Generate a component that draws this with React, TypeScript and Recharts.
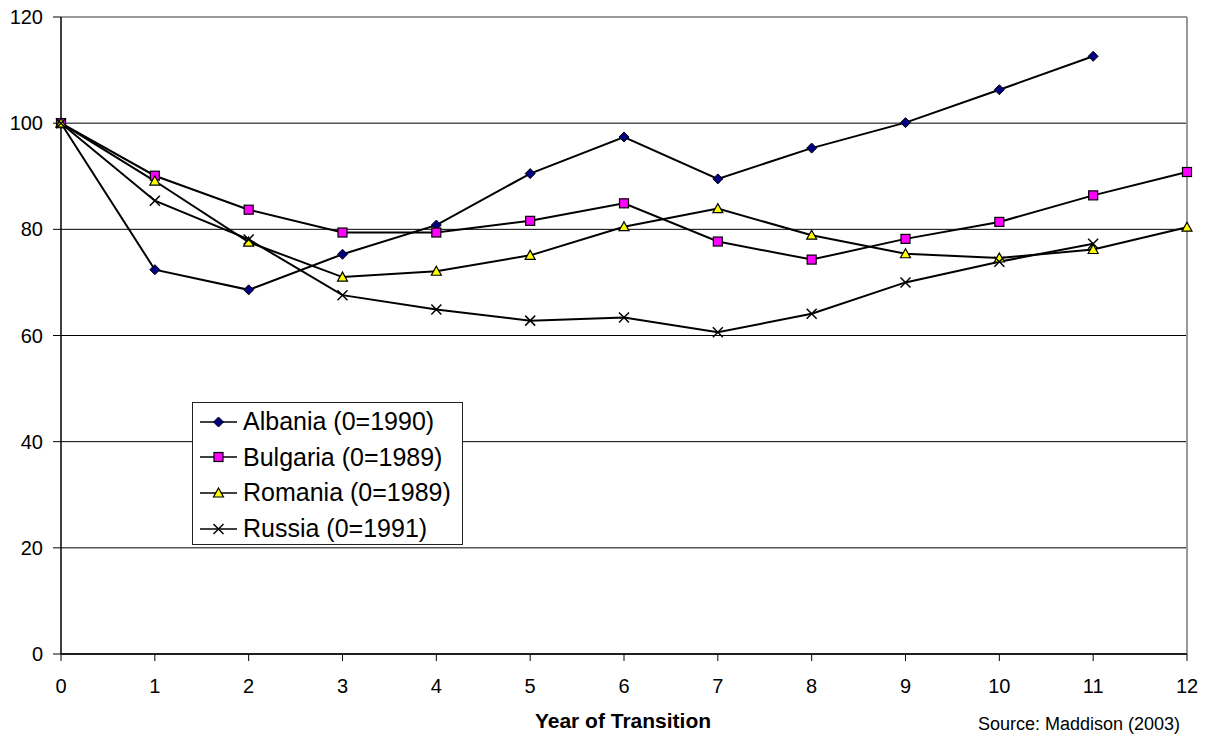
import React from 'react';
import { LineChart, Line, XAxis, YAxis, CartesianGrid, ReferenceLine, Legend } from 'recharts';

const years = [0, 1, 2, 3, 4, 5, 6, 7, 8, 9, 10, 11, 12];
const albania = [100, 72.4, 68.6, 75.3, 80.8, 90.5, 97.4, 89.5, 95.3, 100.1, 106.3, 112.6, null];
const bulgaria = [100, 90.1, 83.7, 79.4, 79.4, 81.6, 84.9, 77.7, 74.3, 78.2, 81.4, 86.4, 90.8];
const romania = [100, 89.1, 77.6, 71.0, 72.1, 75.1, 80.5, 83.9, 78.9, 75.4, 74.6, 76.2, 80.4];
const russia = [100, 85.4, 78.1, 67.6, 64.9, 62.8, 63.4, 60.6, 64.1, 70.0, 73.9, 77.3, null];
const seriesNames = ['Albania (0=1990)', 'Bulgaria (0=1989)', 'Romania (0=1989)', 'Russia (0=1991)'];
const xTicks = [0, 1, 2, 3, 4, 5, 6, 7, 8, 9, 10, 11, 12];
const yTicks = [0, 20, 40, 60, 80, 100, 120];

const data = years.map((y, i) => ({
  year: y,
  albania: albania[i],
  bulgaria: bulgaria[i],
  romania: romania[i],
  russia: russia[i],
}));

const FONT = '"Liberation Sans", Arial, sans-serif';

type Shape = 'diamond' | 'square' | 'triangle' | 'x';

function Marker({ cx, cy, shape }: { cx: number; cy: number; shape: Shape }) {
  if (cx == null || cy == null || isNaN(cx) || isNaN(cy)) return null;
  if (shape === 'diamond') {
    const r = 5;
    return <path d={`M${cx},${cy - r}L${cx + r},${cy}L${cx},${cy + r}L${cx - r},${cy}Z`} fill="#000080" stroke="#000" strokeWidth={1} />;
  }
  if (shape === 'square') {
    const r = 4.5;
    return <rect x={cx - r} y={cy - r} width={2 * r} height={2 * r} fill="#FF00FF" stroke="#000" strokeWidth={1.2} />;
  }
  if (shape === 'triangle') {
    const r = 5;
    return <path d={`M${cx},${cy - r}L${cx + r},${cy + r * 0.8}L${cx - r},${cy + r * 0.8}Z`} fill="#FFFF00" stroke="#000" strokeWidth={1.2} />;
  }
  const r = 5;
  return (
    <g stroke="#000" strokeWidth={1.5}>
      <line x1={cx - r} y1={cy - r} x2={cx + r} y2={cy + r} />
      <line x1={cx - r} y1={cy + r} x2={cx + r} y2={cy - r} />
    </g>
  );
}

const makeDot = (shape: Shape) => (props: any) => (
  <Marker key={`${shape}-${props.index}`} cx={props.cx} cy={props.cy} shape={shape} />
);

const shapes: Shape[] = ['diamond', 'square', 'triangle', 'x'];

function LegendBox() {
  return (
    <div
      style={{
        width: 271,
        height: 143,
        boxSizing: 'border-box',
        border: '1px solid #222',
        background: '#fff',
        paddingTop: 1,
        paddingLeft: 7,
        fontFamily: FONT,
        fontSize: 25,
        color: '#000',
      }}
    >
      {seriesNames.map((n, i) => (
        <div key={n} style={{ height: 35.6, display: 'flex', alignItems: 'center', whiteSpace: 'nowrap' }}>
          <svg width={37} height={20} style={{ marginRight: 6, flex: 'none' }}>
            <line x1={0} y1={10} x2={37} y2={10} stroke="#000" strokeWidth={1.5} />
            <Marker cx={18.5} cy={10} shape={shapes[i]} />
          </svg>
          <span>{n}</span>
        </div>
      ))}
    </div>
  );
}

export default function App() {
  return (
    <div style={{ position: 'absolute', left: 0, top: 0, width: 1207, height: 734, background: '#fff' }}>
      <LineChart width={1207} height={734} data={data} margin={{ top: 17, right: 20, left: 0, bottom: 40 }}>
        <CartesianGrid vertical={false} stroke="#000" strokeWidth={1} />
        <XAxis
          dataKey="year"
          type="number"
          domain={[0, 12]}
          ticks={xTicks}
          height={40}
          tickSize={7}
          tickMargin={18}
          axisLine={{ stroke: '#000', strokeWidth: 1.5 }}
          tickLine={{ stroke: '#000' }}
          tick={{ fill: '#000', fontSize: 20, fontFamily: FONT }}
          interval={0}
        />
        <YAxis
          type="number"
          domain={[0, 120]}
          ticks={yTicks}
          width={61}
          tickSize={8}
          tickMargin={10}
          axisLine={{ stroke: '#000', strokeWidth: 1.5 }}
          tickLine={{ stroke: '#000' }}
          tick={{ fill: '#000', fontSize: 20, fontFamily: FONT }}
          interval={0}
        />
        <ReferenceLine y={120} stroke="#999" strokeWidth={2} />
        <ReferenceLine x={12} stroke="#999" strokeWidth={2} />
        <Legend
          layout="vertical"
          align="center"
          verticalAlign="middle"
          wrapperStyle={{ left: 192, top: 402, width: 271, height: 143 }}
          content={() => <LegendBox />}
        />
        <Line dataKey="albania" name={seriesNames[0]} stroke="#000" strokeWidth={2} dot={makeDot('diamond')} isAnimationActive={false} />
        <Line dataKey="bulgaria" name={seriesNames[1]} stroke="#000" strokeWidth={2} dot={makeDot('square')} isAnimationActive={false} />
        <Line dataKey="romania" name={seriesNames[2]} stroke="#000" strokeWidth={2} dot={makeDot('triangle')} isAnimationActive={false} />
        <Line dataKey="russia" name={seriesNames[3]} stroke="#000" strokeWidth={2} dot={makeDot('x')} isAnimationActive={false} />
      </LineChart>
      <div
        style={{
          position: 'absolute',
          left: 423,
          width: 400,
          top: 710,
          textAlign: 'center',
          fontFamily: FONT,
          fontSize: 21,
          lineHeight: '21px',
          fontWeight: 'bold',
          color: '#000',
        }}
      >
        Year of Transition
      </div>
      <div
        style={{
          position: 'absolute',
          right: 27,
          top: 715,
          fontFamily: FONT,
          fontSize: 18,
          lineHeight: '18px',
          color: '#000',
        }}
      >
        Source: Maddison (2003)
      </div>
    </div>
  );
}
